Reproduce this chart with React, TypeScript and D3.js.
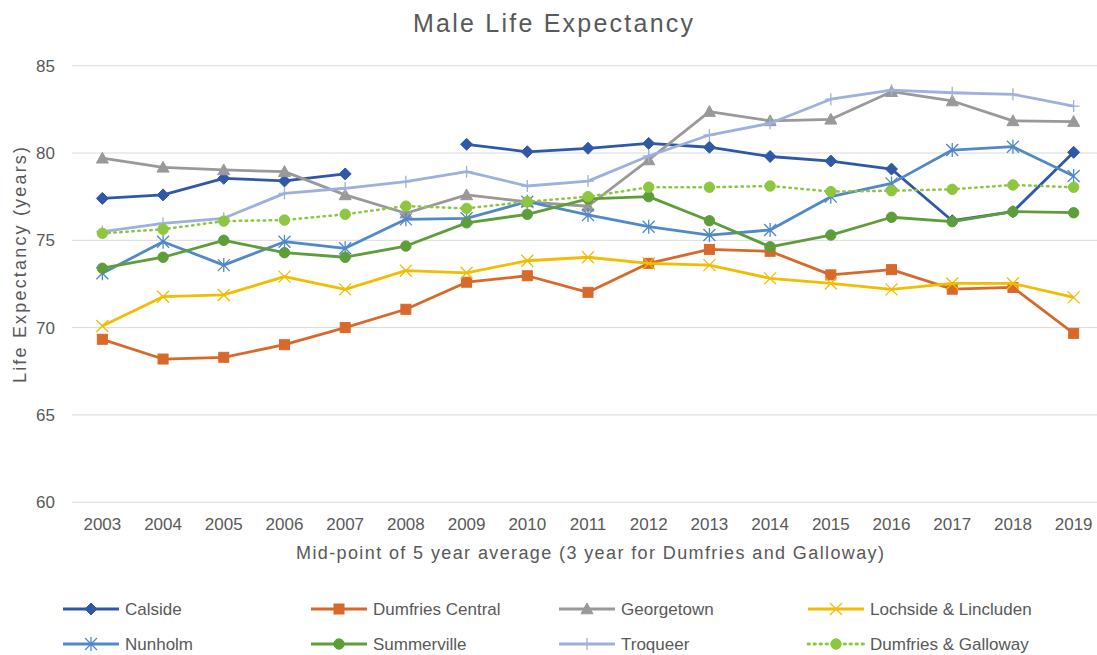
import React from "react";
import * as d3 from "d3";

const years = ["2003","2004","2005","2006","2007","2008","2009","2010","2011","2012","2013","2014","2015","2016","2017","2018","2019"];
const yTicks = [60, 65, 70, 75, 80, 85];

const calside = [77.4, 77.6, 78.55, 78.4, 78.8, null, 80.5, 80.07, 80.27, 80.55, 80.33, 79.8, 79.54, 79.08, 76.12, 76.64, 80.04];
const dumfriesCentral = [69.33, 68.2, 68.3, 69.02, 70.0, 71.05, 72.6, 72.97, 72.02, 73.68, 74.48, 74.37, 73.02, 73.32, 72.2, 72.3, 69.67];
const georgetown = [79.7, 79.18, 79.03, 78.93, 77.6, 76.55, 77.6, 77.2, 76.95, 79.6, 82.37, 81.84, 81.93, 83.51, 82.98, 81.84, 81.8];
const lochside = [70.09, 71.77, 71.87, 72.92, 72.19, 73.26, 73.14, 73.83, 74.03, 73.68, 73.58, 72.82, 72.53, 72.19, 72.53, 72.53, 71.73];
const nunholm = [73.11, 74.92, 73.58, 74.92, 74.54, 76.2, 76.26, 77.21, 76.45, 75.78, 75.3, 75.59, 77.5, 78.26, 80.17, 80.36, 78.68];
const summerville = [73.4, 74.03, 75.0, 74.29, 74.03, 74.67, 76.0, 76.49, 77.37, 77.5, 76.12, 74.63, 75.3, 76.32, 76.07, 76.64, 76.58];
const troqueer = [75.5, 75.97, 76.26, 77.69, 77.98, 78.36, 78.93, 78.11, 78.39, 79.83, 81.03, 81.7, 83.08, 83.6, 83.45, 83.36, 82.69];
const dumfriesGalloway = [75.4, 75.63, 76.1, 76.16, 76.49, 76.96, 76.83, 77.21, 77.5, 78.04, 78.04, 78.11, 77.79, 77.84, 77.92, 78.17, 78.04];

const seriesNames = ["Calside", "Dumfries Central", "Georgetown", "Lochside & Lincluden", "Nunholm", "Summerville", "Troqueer", "Dumfries & Galloway"];
const seriesValues = [calside, dumfriesCentral, georgetown, lochside, nunholm, summerville, troqueer, dumfriesGalloway];
const seriesColors = ["#2F58A8", "#D8692A", "#999999", "#F2BC00", "#5089C6", "#5E9E3A", "#9DB0DE", "#8DC63F"];
const seriesMarkers = ["diamond", "square", "triangle", "x", "asterisk", "circle", "plus", "circle"];

const W = 1097, H = 655;
const x = d3.scalePoint<string>().domain(years).range([72, 1104]).padding(0.5);
const y = d3.scaleLinear().domain([60, 85]).range([502.2, 65.7]);
const FONT = "Liberation Sans, Arial, sans-serif";
const TXT = "#595959";

function Marker({ kind, cx, cy, color }: { kind: string; cx: number; cy: number; color: string }) {
  if (kind === "diamond") {
    const r = 6;
    return <path d={`M${cx},${cy - r}L${cx + r},${cy}L${cx},${cy + r}L${cx - r},${cy}Z`} fill={color} stroke={color} strokeWidth={1} />;
  }
  if (kind === "square") {
    const r = 5;
    return <rect x={cx - r} y={cy - r} width={2 * r} height={2 * r} fill={color} stroke={color} strokeWidth={1} />;
  }
  if (kind === "triangle") {
    const r = 6;
    return <path d={`M${cx},${cy - r}L${cx + r},${cy + r * 0.8}L${cx - r},${cy + r * 0.8}Z`} fill={color} stroke={color} strokeWidth={1} />;
  }
  if (kind === "circle") {
    return <circle cx={cx} cy={cy} r={5.2} fill={color} stroke={color} strokeWidth={1} />;
  }
  if (kind === "x") {
    const r = 6;
    return <path d={`M${cx - r},${cy - r}L${cx + r},${cy + r}M${cx - r},${cy + r}L${cx + r},${cy - r}`} stroke={color} strokeWidth={1.3} fill="none" />;
  }
  if (kind === "asterisk") {
    const r = 6;
    return <path d={`M${cx - r},${cy - r}L${cx + r},${cy + r}M${cx - r},${cy + r}L${cx + r},${cy - r}M${cx},${cy - r - 1}L${cx},${cy + r + 1}`} stroke={color} strokeWidth={1.3} fill="none" />;
  }
  if (kind === "plus") {
    const r = 6;
    return <path d={`M${cx - r},${cy}L${cx + r},${cy}M${cx},${cy - r}L${cx},${cy + r}`} stroke={color} strokeWidth={1.3} fill="none" />;
  }
  return null;
}

export default function App() {
  const line = d3
    .line<number | null>()
    .defined((d) => d !== null)
    .x((_, i) => x(years[i]) as number)
    .y((d) => y(d as number));

  const legendCols = [63, 311, 559, 808];
  const legendRows = [609, 644];

  return (
    <svg width={W} height={H} style={{ position: "absolute", left: 0, top: 0, background: "#fff" }} fontFamily={FONT}>
      <rect x={0} y={0} width={W} height={H} fill="#fff" />
      <text x={553} y={32} textAnchor="middle" fontSize={25} fill={TXT} textLength={280} lengthAdjust="spacing">Male Life Expectancy</text>

      {yTicks.map((t) => (
        <g key={t}>
          <line x1={72} x2={1104} y1={y(t)} y2={y(t)} stroke="#D9D9D9" strokeWidth={1} />
          <text x={55} y={y(t) + 6} textAnchor="end" fontSize={17} fill={TXT}>{t}</text>
        </g>
      ))}

      {years.map((yr) => (
        <text key={yr} x={x(yr)} y={530} textAnchor="middle" fontSize={17} fill={TXT}>{yr}</text>
      ))}

      <text x={590} y={559} textAnchor="middle" fontSize={18} fill={TXT} textLength={588} lengthAdjust="spacing">Mid-point of 5 year average (3 year for Dumfries and Galloway)</text>
      <text transform="translate(26,265) rotate(-90)" textAnchor="middle" fontSize={18} fill={TXT} textLength={236} lengthAdjust="spacing">Life Expectancy (years)</text>

      {seriesValues.map((vals, si) => (
        <g key={seriesNames[si]}>
          <path
            d={line(vals) || ""}
            fill="none"
            stroke={seriesColors[si]}
            strokeWidth={si === 7 ? 2.5 : 2.8}
            strokeDasharray={si === 7 ? "1.5 4.5" : undefined}
            strokeLinecap={si === 7 ? "round" : "butt"}
            strokeLinejoin="round"
          />
          {vals.map((v, i) =>
            v === null ? null : (
              <Marker key={i} kind={seriesMarkers[si]} cx={x(years[i]) as number} cy={y(v)} color={seriesColors[si]} />
            )
          )}
        </g>
      ))}

      {seriesNames.map((name, si) => {
        const lx = legendCols[si % 4];
        const ly = legendRows[Math.floor(si / 4)];
        return (
          <g key={name}>
            <line
              x1={lx}
              x2={lx + 56}
              y1={ly}
              y2={ly}
              stroke={seriesColors[si]}
              strokeWidth={2.8}
              strokeDasharray={si === 7 ? "1.5 4.5" : undefined}
              strokeLinecap={si === 7 ? "round" : "butt"}
            />
            <Marker kind={seriesMarkers[si]} cx={lx + 28} cy={ly} color={seriesColors[si]} />
            <text x={lx + 62} y={ly + 6} fontSize={17} fill={TXT}>{name}</text>
          </g>
        );
      })}
    </svg>
  );
}
